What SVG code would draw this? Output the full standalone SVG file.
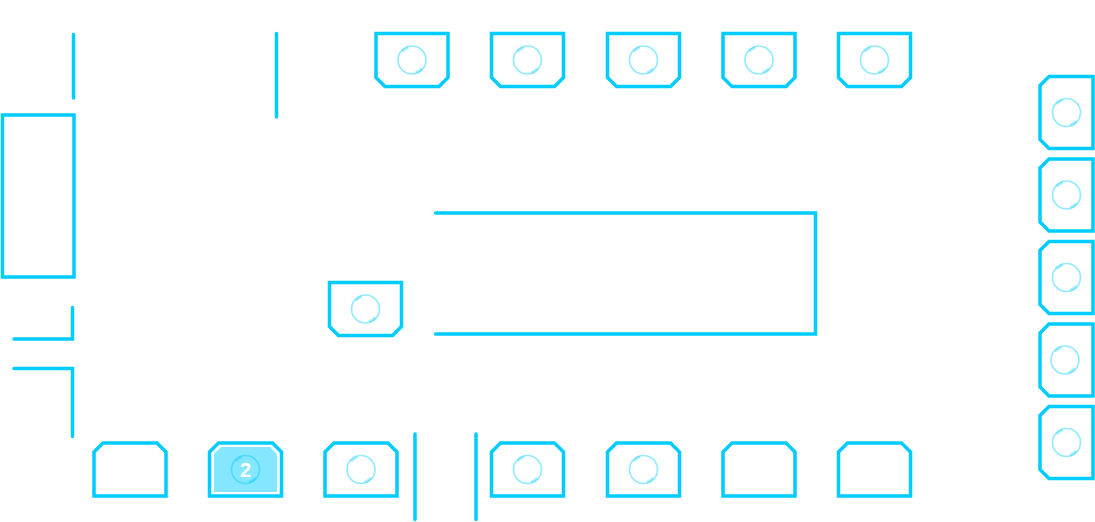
<svg xmlns="http://www.w3.org/2000/svg" xmlns:xlink="http://www.w3.org/1999/xlink" width="1095" height="522" viewBox="0 0 1095 522">
<style>
.o{fill:none;stroke:#00ccff;stroke-width:3.500}
.c{fill:none;stroke:#00ccff;stroke-width:3.500;stroke-linecap:round}
.r{fill:none;stroke:#00ccff;stroke-opacity:.42;stroke-width:1.700}
.h{fill:none;stroke:#00ccff;stroke-opacity:.32;stroke-width:2.500}
.t{font:bold 20px "Liberation Sans",Arial,sans-serif;fill:#fff;text-anchor:middle}
</style>
<defs>
<g id="seat"><circle class="r" r="14"/><path class="h" d="M-9.800 -8.400A13 13 0 0 1 -3.500 -12.500M9.800 8.400A13 13 0 0 1 3.500 12.500"/></g>
<path id="down" class="o" d="M0 0H72V44L63 53H9L0 44Z"/>
<path id="up" class="o" d="M9 0H63L72 9V53H0V9Z"/>
<path id="left" class="o" d="M9 0H53V72H9L0 63V9Z"/>
</defs>
<rect id="large-block" class="o" x="2.500" y="115" width="71.500" height="162"/>
<g id="top-1"><use xlink:href="#down" x="376" y="33.500"/><use xlink:href="#seat" x="412" y="60"/></g>
<g id="top-2"><use xlink:href="#down" x="491.500" y="33.500"/><use xlink:href="#seat" x="527.500" y="60"/></g>
<g id="top-3"><use xlink:href="#down" x="607.500" y="33.500"/><use xlink:href="#seat" x="643.500" y="60"/></g>
<g id="top-4"><use xlink:href="#down" x="723" y="33.500"/><use xlink:href="#seat" x="759" y="60"/></g>
<g id="top-5"><use xlink:href="#down" x="838.500" y="33.500"/><use xlink:href="#seat" x="874.500" y="60"/></g>
<g id="center"><use xlink:href="#down" x="329.500" y="282.500"/><use xlink:href="#seat" x="365.500" y="309"/></g>
<g id="right-1"><use xlink:href="#left" x="1040" y="76.500"/><use xlink:href="#seat" x="1066.500" y="112.500"/></g>
<g id="right-2"><use xlink:href="#left" x="1040" y="159"/><use xlink:href="#seat" x="1066.500" y="195"/></g>
<g id="right-3"><use xlink:href="#left" x="1040" y="241.500"/><use xlink:href="#seat" x="1066.500" y="277.500"/></g>
<g id="right-4"><use xlink:href="#left" x="1040" y="324"/><use xlink:href="#seat" x="1065" y="360"/></g>
<g id="right-5"><use xlink:href="#left" x="1040" y="406.500"/><use xlink:href="#seat" x="1066.500" y="442.500"/></g>
<g id="bottom-1"><use xlink:href="#up" x="94" y="443"/></g>
<g id="bottom-2"><use xlink:href="#up" x="209.500" y="443"/><path fill="#00ccff" fill-opacity=".48" d="M221 447H270L277 454V492H214V454Z"/><use xlink:href="#seat" x="245.500" y="469.500"/><text class="t" x="245.500" y="476.500">2</text></g>
<g id="bottom-3"><use xlink:href="#up" x="325" y="443"/><use xlink:href="#seat" x="361" y="469.500"/></g>
<g id="bottom-4"><use xlink:href="#up" x="491.500" y="443"/><use xlink:href="#seat" x="527.500" y="469.500"/></g>
<g id="bottom-5"><use xlink:href="#up" x="607.500" y="443"/><use xlink:href="#seat" x="643.500" y="469.500"/></g>
<g id="bottom-6"><use xlink:href="#up" x="723" y="443"/></g>
<g id="bottom-7"><use xlink:href="#up" x="838.500" y="443"/></g>
<g id="connectors">
<path class="c" d="M73.500 34.500V98"/>
<path class="c" d="M276.500 33.500V117"/>
<path class="c" d="M435.500 213H815.500V334H435.500"/>
<path class="c" d="M14 339H72.500V307.500"/>
<path class="c" d="M14 368.500H72.500V436.500"/>
<path class="c" d="M415 434V519.500"/>
<path class="c" d="M476 434V519.500"/>
</g>
</svg>
